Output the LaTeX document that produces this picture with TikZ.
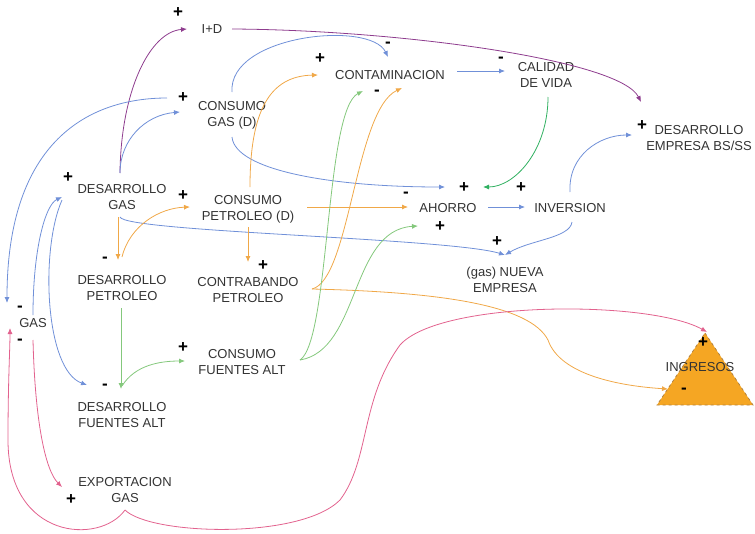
\documentclass[tikz,border=0pt]{standalone}
\usepackage{fontspec}
\setmainfont{Liberation Sans}
\usetikzlibrary{arrows.meta,calc}
\definecolor{cblue}{HTML}{7090D8}
\definecolor{corange}{HTML}{F0A848}
\definecolor{cgreen}{HTML}{84C87C}
\definecolor{cdgreen}{HTML}{2FB060}
\definecolor{cpurple}{HTML}{8E3C8E}
\definecolor{cpink}{HTML}{E2628E}
\definecolor{txt}{HTML}{333333}
\definecolor{ingfill}{HTML}{F5A623}
\definecolor{ingborder}{HTML}{B08040}
\begin{document}
\begin{tikzpicture}[x=1pt,y=-1pt,
  lbl/.style={font=\fontsize{13}{16}\selectfont, text=txt, align=center, inner sep=1pt},
  sgn/.style={font=\fontsize{17}{17}\selectfont\bfseries, inner sep=0pt, text=black},
  conn/.style={line width=0.8pt, -{Latex[length=6pt,width=5pt]}},
  bl/.style={conn, draw=cblue},
  og/.style={conn, draw=corange},
  gr/.style={conn, draw=cgreen},
  dgr/.style={conn, draw=cdgreen},
  pu/.style={conn, draw=cpurple},
  pk/.style={conn, draw=cpink},
]
\useasboundingbox (0,0) rectangle (755,533);

% triangle INGRESOS
\draw[fill=ingfill, draw=ingborder, dashed, line width=0.8pt] (705,333) -- (753,405) -- (657,405) -- cycle;

% nodes
\node[lbl] (ID) at (212,29) {I+D};
\node[lbl] (CG) at (232,115) {CONSUMO\\GAS (D)};
\node[lbl] (CONT) at (390,75) {CONTAMINACION};
\node[lbl] (CV) at (546,75) {CALIDAD\\DE VIDA};
\node[lbl] (DEB) at (699,138) {DESARROLLO\\EMPRESA BS/SS};
\node[lbl] (DG) at (122,197) {DESARROLLO\\GAS};
\node[lbl] (CP) at (248,209) {CONSUMO\\PETROLEO (D)};
\node[lbl] (AH) at (448,208) {AHORRO};
\node[lbl] (INV) at (570,208) {INVERSION};
\node[lbl] (NE) at (505,280) {(gas) NUEVA\\EMPRESA};
\node[lbl] (DP) at (122,288) {DESARROLLO\\PETROLEO};
\node[lbl] (CTB) at (248,290) {CONTRABANDO\\PETROLEO};
\node[lbl] (GAS) at (33,323) {GAS};
\node[lbl] (CFA) at (242,362) {CONSUMO\\FUENTES ALT};
\node[lbl] (DFA) at (122,415) {DESARROLLO\\FUENTES ALT};
\node[lbl] (EXP) at (125,490) {EXPORTACION\\GAS};
\node[lbl] (ING) at (700,367) {INGRESOS};

% connectors
\draw[pu] ($(DG)+(-2,-24)$) .. controls (121,90) and (150,32) .. ($(ID)+(-25,0)$);
\draw[pu] ($(ID)+(20,0)$) .. controls (400,30) and (620,60) .. ($(DEB)+(-58,-36)$);
\draw[bl] ($(DG)+(-2,-24)$) .. controls (120,140) and (145,115) .. ($(CG)+(-52,-3)$);
\draw[bl] ($(CG)+(-65,-17)$) .. controls (90,98) and (7,140) .. ($(GAS)+(-26,-20)$);
\draw[bl] ($(CG)+(0,-23)$) .. controls (228,35) and (370,20) .. ($(CONT)+(-2,-18)$);
\draw[bl] ($(CG)+(0,22)$) .. controls (235,170) and (330,187) .. ($(AH)+(-3,-21)$);
\draw[og] ($(CP)+(2,-22)$) .. controls (250,110) and (270,76) .. ($(CONT)+(-72,0)$);
\draw[bl] ($(CONT)+(67,-4)$) -- ($(CV)+(-41,-4)$);
\draw[dgr] ($(CV)+(2,22)$) .. controls (548,150) and (515,187) .. ($(AH)+(35,-21)$);
\draw[bl] ($(AH)+(40,-1)$) -- ($(INV)+(-45,-1)$);
\draw[bl] ($(INV)+(0,-16)$) .. controls (568,155) and (600,135) .. ($(DEB)+(-67,-3)$);
\draw[bl] ($(INV)+(2,14)$) .. controls (570,238) and (530,240) .. ($(NE)+(0,-25)$);
\draw[bl] ($(DG)+(-2,20)$) .. controls (125,232) and (450,238) .. ($(NE)+(0,-25)$);
\draw[og] ($(CP)+(59,-2)$) -- ($(AH)+(-40,-1)$);
\draw[og] ($(DG)+(-4,20)$) -- ($(DP)+(-4,-28)$);
\draw[og] ($(DP)+(0,-31)$) .. controls (130,225) and (160,208) .. ($(CP)+(-58,-2)$);
\draw[og] ($(CP)+(0,18)$) -- ($(CTB)+(0,-28)$);
\draw[og] ($(CTB)+(64,-1)$) .. controls (350,280) and (355,110) .. ($(CONT)+(12,13)$);
\draw[og] ($(CTB)+(64,-1)$) .. controls (440,292) and (530,305) .. (548,340) .. controls (560,375) and (620,386) .. ($(ING)+(-32,22)$);
\draw[gr] ($(CFA)+(58,-2)$) .. controls (330,340) and (325,110) .. ($(CONT)+(-27,16)$);
\draw[gr] ($(CFA)+(58,-2)$) .. controls (360,350) and (350,230) .. ($(AH)+(-30,18)$);
\draw[gr] ($(DP)+(-1,20)$) -- ($(DFA)+(-1,-26)$);
\draw[gr] ($(DFA)+(0,-29)$) .. controls (135,365) and (160,361) .. ($(CFA)+(-57,-1)$);
\draw[bl] ($(DG)+(-60,3)$) .. controls (40,250) and (45,370) .. ($(DFA)+(-35,-30)$);
\draw[bl] ($(GAS)+(0,-8)$) .. controls (33,250) and (45,205) .. ($(DG)+(-60,0)$);
\draw[pk] ($(GAS)+(0,17)$) .. controls (35,420) and (45,470) .. ($(EXP)+(-63,-3)$);
\draw[pk] ($(EXP)+(0,20)$) .. controls (100,545) and (8,540) .. (8,440) .. controls (8,380) and (10,350) .. ($(GAS)+(-23,5)$);
\draw[pk] ($(EXP)+(0,20)$) .. controls (150,535) and (300,540) .. (340,500) .. controls (370,460) and (360,400) .. (400,345) .. controls (440,300) and (650,300) .. ($(ING)+(7,-35)$);

% signs
\node[sgn] (s1) at (178,13) {+};
\node[sgn] (s2) at (320,59) {+};
\node[sgn] (s3) at (388,45) {-};
\node[sgn] (s4) at (377,93) {-};
\node[sgn] (s5) at (501,60) {-};
\node[sgn] (s6) at (183,98) {+};
\node[sgn] (s7) at (642,126) {+};
\node[sgn] (s8) at (68,178) {+};
\node[sgn] (s9) at (183,196) {+};
\node[sgn] (s10) at (464,188) {+};
\node[sgn] (s11) at (521,188) {+};
\node[sgn] (s12) at (406,195) {-};
\node[sgn] (s13) at (440,227) {+};
\node[sgn] (s14) at (497,242) {+};
\node[sgn] (s15) at (105,260) {-};
\node[sgn] (s16) at (263,266) {+};
\node[sgn] (s17) at (20,309) {-};
\node[sgn] (s18) at (20,342) {-};
\node[sgn] (s19) at (183,348) {+};
\node[sgn] (s20) at (105,387) {-};
\node[sgn] (s21) at (71,500) {+};
\node[sgn] (s22) at (703,343) {+};
\node[sgn] (s23) at (684,391) {-};
\end{tikzpicture}
\end{document}
